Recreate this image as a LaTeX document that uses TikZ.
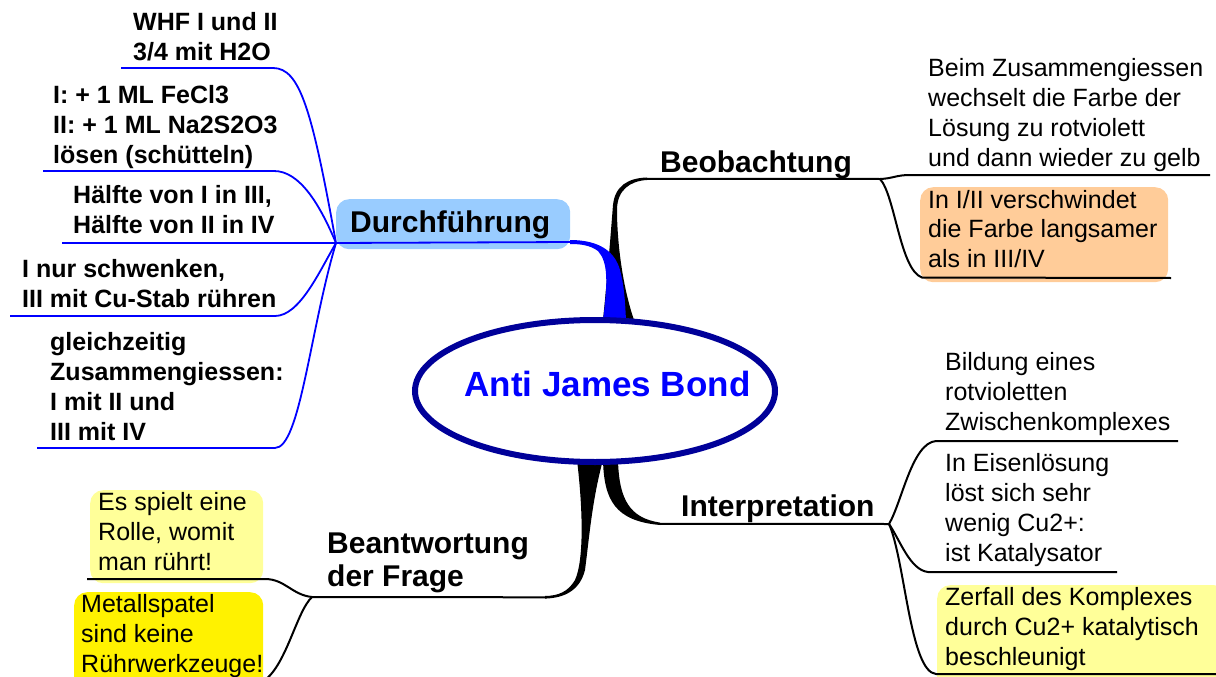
\documentclass[tikz,border=0pt]{standalone}
\usepackage{fontspec}
\setmainfont{Liberation Sans}
\usetikzlibrary{shapes.geometric}
\definecolor{navy}{RGB}{0,0,153}
\definecolor{lblue}{RGB}{153,204,255}
\definecolor{lorange}{RGB}{255,204,153}
\definecolor{lyellow}{RGB}{255,255,153}
\definecolor{pblue}{RGB}{0,0,255}
\begin{document}
\begin{tikzpicture}[x=1pt,y=-1pt,
  sub/.style={anchor=base west, inner sep=0pt, align=left, font=\fontsize{25}{30}\selectfont\bfseries},
  leaf/.style={anchor=base west, inner sep=0pt, align=left, font=\fontsize{25}{29.7}\selectfont},
  mainlbl/.style={anchor=base west, inner sep=0pt, align=left, font=\fontsize{30}{33}\selectfont\bfseries},
  bl/.style={draw=pblue, line width=1.8pt},
  kl/.style={draw=black, line width=2pt},
  hbox/.style={rounded corners=13pt, draw=none, inner sep=0pt, anchor=north west}]
\useasboundingbox (0,0) rectangle (1216,677);
\clip (0,0) rectangle (1216,677);

% ---------- coloured boxes ----------
\node[hbox,fill=lblue,minimum width=234pt,minimum height=50pt] (dbox) at (336,199) {};
\node[hbox,fill=lorange,minimum width=248pt,minimum height=95pt] (obox) at (920,187) {};
\node[hbox,fill=lyellow,minimum width=290pt,minimum height=120pt] (zbox) at (937,585) {};
\node[hbox,fill=lyellow,minimum width=173pt,minimum height=93pt] (ebox) at (90,490) {};
\node[hbox,fill=yellow,minimum width=189pt,minimum height=110pt] (mbox) at (74,592) {};

% ---------- junctions ----------
\coordinate (D) at (336,243);
\coordinate (B) at (880,179);
\coordinate (I) at (889,524);
\coordinate (J) at (312,597);

% ---------- trunks ----------
% Beobachtung (black, top)
\fill[black] (603,320) .. controls (608,270) and (611,230) .. (613,205)
  .. controls (615,186) and (628,178) .. (647,177.5) -- (647,180)
  .. controls (630,181) and (617,190) .. (617,210)
  .. controls (617,240) and (622,285) .. (634,320) -- cycle;
\coordinate (btop) at (646,178.8);
\draw[kl] (btop) -- (B);
% Durchfuehrung (blue, top)
\fill[pblue] (570,240) .. controls (600,240) and (615,252) .. (620,270)
  .. controls (624,285) and (625,300) .. (626,320) -- (603,320)
  .. controls (608,282) and (608,262) .. (598,251)
  .. controls (590,245) and (580,244) .. (570,244) -- cycle;
\coordinate (dtr) at (571,242);
\draw[bl] (D) -- (dtr);
% Interpretation (black, bottom right)
\fill[black] (603,460) .. controls (604,500) and (615,521) .. (660,525)
  -- (660,522.6) .. controls (630,518) and (619,500) .. (618,460) -- cycle;
\coordinate (itr) at (659,523.8);
\draw[kl] (itr) -- (I);
% Beantwortung (black, bottom left)
\fill[black] (577,460) .. controls (583,510) and (584,560) .. (575,580)
  .. controls (568,592) and (558,595.8) .. (545,596) -- (545,598.6)
  .. controls (565,598) and (580,590) .. (585,570)
  .. controls (589,540) and (592,500) .. (603,460) -- cycle;
\coordinate (jtr) at (546,597.3);
\draw[kl] (jtr) -- (J);

% ---------- central ellipse ----------
\node[ellipse, draw=navy, line width=6pt, fill=white, minimum width=360pt, minimum height=142pt, inner sep=0pt] (c) at (595,391) {};
\node[anchor=base, inner sep=0pt, text=pblue, font=\fontsize{35}{40}\selectfont\bfseries] (ctext) at (607.5,396) {Anti James Bond};

% ---------- Durchfuehrung branches ----------
\coordinate (d1a) at (121,68);  \coordinate (d1b) at (273,68);
\coordinate (d2a) at (43,171);  \coordinate (d2b) at (274,171);
\coordinate (d3a) at (62,243);
\coordinate (d4a) at (10,316);  \coordinate (d4b) at (275,316);
\coordinate (d5a) at (37,448);  \coordinate (d5b) at (275,448);
\draw[bl] (d1a) -- (d1b) .. controls (300,68) and (312,110) .. (D);
\draw[bl] (d2a) -- (d2b) .. controls (300,171) and (320,205) .. (D);
\draw[bl] (d3a) -- (D);
\draw[bl] (d4a) -- (d4b) .. controls (300,316) and (320,270) .. (D);
\draw[bl] (d5a) -- (d5b) .. controls (300,448) and (310,330) .. (D);

% ---------- Beobachtung branches ----------
\coordinate (b1b) at (1210,175);
\coordinate (b2b) at (1171,278);
\draw[kl] (B) .. controls (893,178.5) and (896,175) .. (910,175) -- (b1b);
\draw[kl] (B) .. controls (895,195) and (900,270) .. (922,277.5) -- (b2b);

% ---------- Interpretation branches ----------
\coordinate (i1b) at (1178,441);
\coordinate (i2b) at (1117,572);
\coordinate (i3b) at (1216,674);
\draw[kl] (I) .. controls (902,502) and (912,443) .. (936,441) -- (i1b);
\draw[kl] (I) .. controls (900,540) and (910,570) .. (928,572) -- (i2b);
\draw[kl] (I) .. controls (905,560) and (910,672) .. (936,674) -- (i3b);

% ---------- Beantwortung branches ----------
\coordinate (a1b) at (87,579);
\coordinate (a2b) at (262,682);
\draw[kl] (J) .. controls (292,595) and (285,579) .. (265,579) -- (a1b);
\draw[kl] (J) .. controls (296,612) and (286,668) .. (a2b);

% ---------- main labels (y = baseline of last line) ----------
\node[mainlbl] (tdurch) at (350,232) {Durchführung};
\node[mainlbl] (tbeob) at (660,172) {Beobachtung};
\node[mainlbl] (tinter) at (681,516) {Interpretation};
\node[mainlbl] (tbeant) at (327,586) {Beantwortung\\der Frage};

% ---------- left texts ----------
\node[sub] (s1) at (133,61) {WHF I und II\\3/4 mit H2O};
\node[sub] (s2) at (53,163) {I: + 1 ML FeCl3\\II: + 1 ML Na2S2O3\\lösen (schütteln)};
\node[sub] (s3) at (73,233) {Hälfte von I in III,\\Hälfte von II in IV};
\node[sub] (s4) at (22,307) {I nur schwenken,\\III mit Cu-Stab rühren};
\node[sub] (s5) at (50,440) {gleichzeitig\\Zusammengiessen:\\I mit II und\\III mit IV};

% ---------- right texts ----------
\node[leaf] (r1) at (928,166) {Beim Zusammengiessen\\wechselt die Farbe der\\Lösung zu rotviolett\\und dann wieder zu gelb};
\node[leaf] (r2) at (928,267.5) {In I/II verschwindet\\die Farbe langsamer\\als in III/IV};
\node[leaf] (r3) at (945,430) {Bildung eines\\rotvioletten\\Zwischenkomplexes};
\node[leaf] (r4) at (945,561) {In Eisenlösung\\löst sich sehr\\wenig Cu2+:\\ist Katalysator};
\node[leaf] (r5) at (945,665) {Zerfall des Komplexes\\durch Cu2+ katalytisch\\beschleunigt};
\node[leaf] (r6) at (98,570) {Es spielt eine\\Rolle, womit\\man rührt!};
\node[leaf] (r7) at (81,672) {Metallspatel\\sind keine\\Rührwerkzeuge!};
\end{tikzpicture}
\end{document}
